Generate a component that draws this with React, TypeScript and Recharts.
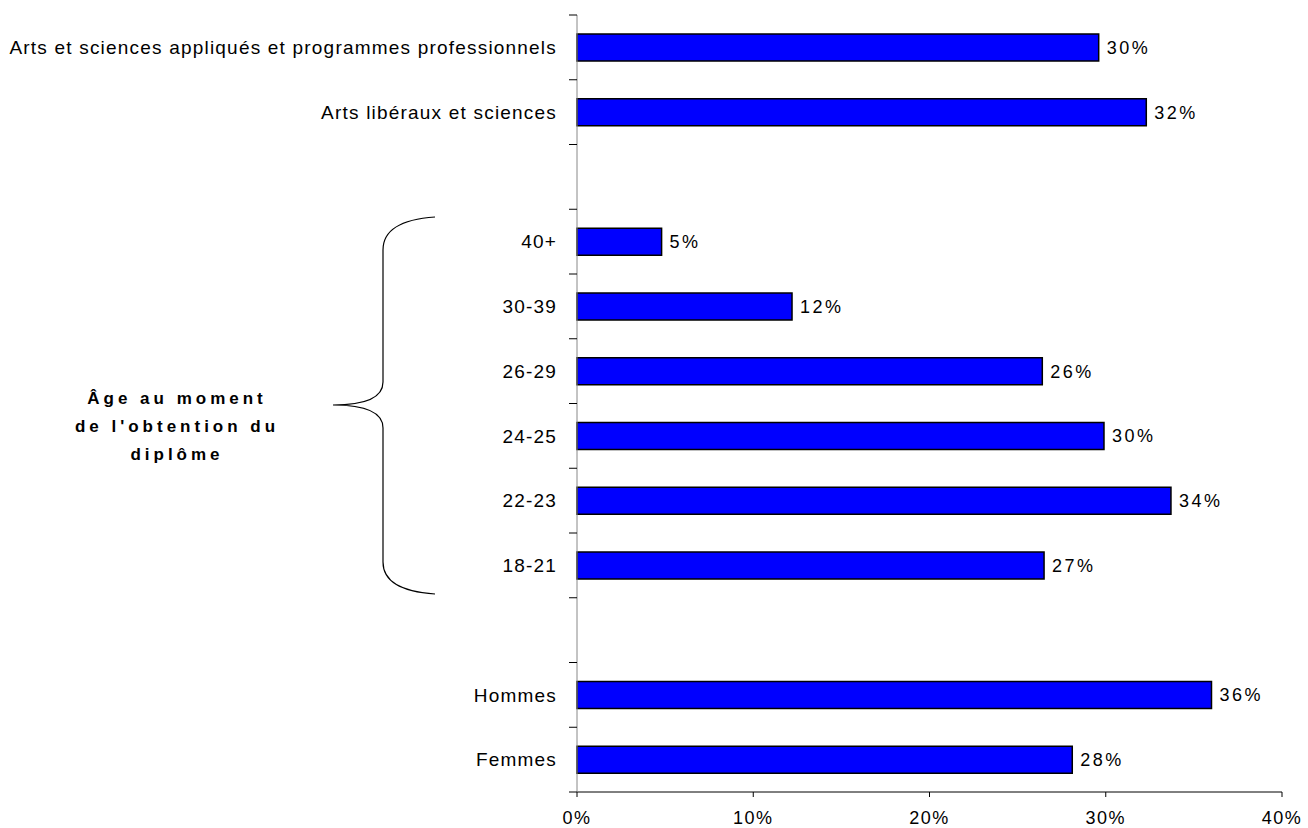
import React from "react"
import { BarChart, Bar, XAxis, YAxis, LabelList } from "recharts"

const categories = [
  "Arts et sciences appliqués et programmes professionnels",
  "Arts libéraux et sciences",
  "",
  "40+",
  "30-39",
  "26-29",
  "24-25",
  "22-23",
  "18-21",
  " ",
  "Hommes",
  "Femmes",
]
const values: (number | null)[] = [29.6, 32.3, null, 4.8, 12.2, 26.4, 29.9, 33.7, 26.5, null, 36.0, 28.1]
const xTicks = [0, 10, 20, 30, 40]
const groupLabel = ["Âge au moment", "de l'obtention du", "diplôme"]

const data = categories.map((name, i) => ({ name, value: values[i] }))

const W = 1308
const H = 828
const TOP = 15
const XAXIS_H = 36
const BAND = (H - TOP - XAXIS_H) / categories.length
const FONT = "'Liberation Sans', Arial, sans-serif"

const CategoryTick = (props: any) => {
  const { x, y, payload, index } = props
  const half = BAND / 2
  return (
    <g>
      <line x1={x - 8} x2={x} y1={y - half} y2={y - half} stroke="#000" />
      {index === categories.length - 1 && (
        <line x1={x - 8} x2={x} y1={y + half} y2={y + half} stroke="#000" />
      )}
      <text
        x={x - 20}
        y={y}
        dy="0.35em"
        textAnchor="end"
        fontSize={19}
        fontFamily={FONT}
        fill="#000"
        style={{ letterSpacing: 1.2 }}
      >
        {payload.value}
      </text>
    </g>
  )
}

const ValueLabel = (props: any) => {
  const { x, y, width, height, value } = props
  if (value == null) return null
  return (
    <text
      x={x + width + 8}
      y={y + height / 2}
      dy="0.35em"
      fontSize={18}
      fontFamily={FONT}
      fill="#000"
      style={{ letterSpacing: 2.5 }}
    >
      {Math.round(value)}%
    </text>
  )
}

const PercentTick = (props: any) => {
  const { x, y, payload } = props
  return (
    <text
      x={x}
      y={y}
      dy="0.71em"
      textAnchor="middle"
      fontSize={18}
      fontFamily={FONT}
      fill="#000"
      style={{ letterSpacing: 1.5 }}
    >
      {payload.value}%
    </text>
  )
}

export default function App() {
  return (
    <div style={{ position: "absolute", left: 0, top: 0, width: W, height: H, background: "#fff" }}>
      <BarChart
        width={W}
        height={H}
        data={data}
        layout="vertical"
        margin={{ top: TOP, right: 26, left: 0, bottom: 0 }}
      >
        <XAxis
          type="number"
          domain={[0, 40]}
          ticks={xTicks}
          height={XAXIS_H}
          axisLine={{ stroke: "#000" }}
          tickLine={{ stroke: "#000" }}
          tickSize={5}
          tickMargin={14}
          tick={<PercentTick />}
        />
        <YAxis
          type="category"
          dataKey="name"
          width={577}
          axisLine={{ stroke: "#888" }}
          tickLine={false}
          tickSize={0}
          tickMargin={0}
          interval={0}
          tick={<CategoryTick />}
        />
        <Bar dataKey="value" fill="#0000ff" stroke="#000" strokeWidth={1.5} barSize={27} isAnimationActive={false}>
          <LabelList dataKey="value" content={<ValueLabel />} />
        </Bar>
      </BarChart>
      <svg width={W} height={H} style={{ position: "absolute", left: 0, top: 0, pointerEvents: "none" }}>
        <path
          d="M435,217 C405,219 383,228 383,250 L383,382 C383,396 370,405 333,405 C370,405 383,414 383,428 L383,562 C383,584 405,592 435,594"
          fill="none"
          stroke="#000"
          strokeWidth={1.2}
        />
        {groupLabel.map((line, i) => (
          <text
            key={i}
            x={177}
            y={404 + i * 28}
            textAnchor="middle"
            fontSize={17}
            fontWeight="bold"
            fontFamily={FONT}
            fill="#000"
            style={{ letterSpacing: 4 }}
          >
            {line}
          </text>
        ))}
      </svg>
    </div>
  )
}
